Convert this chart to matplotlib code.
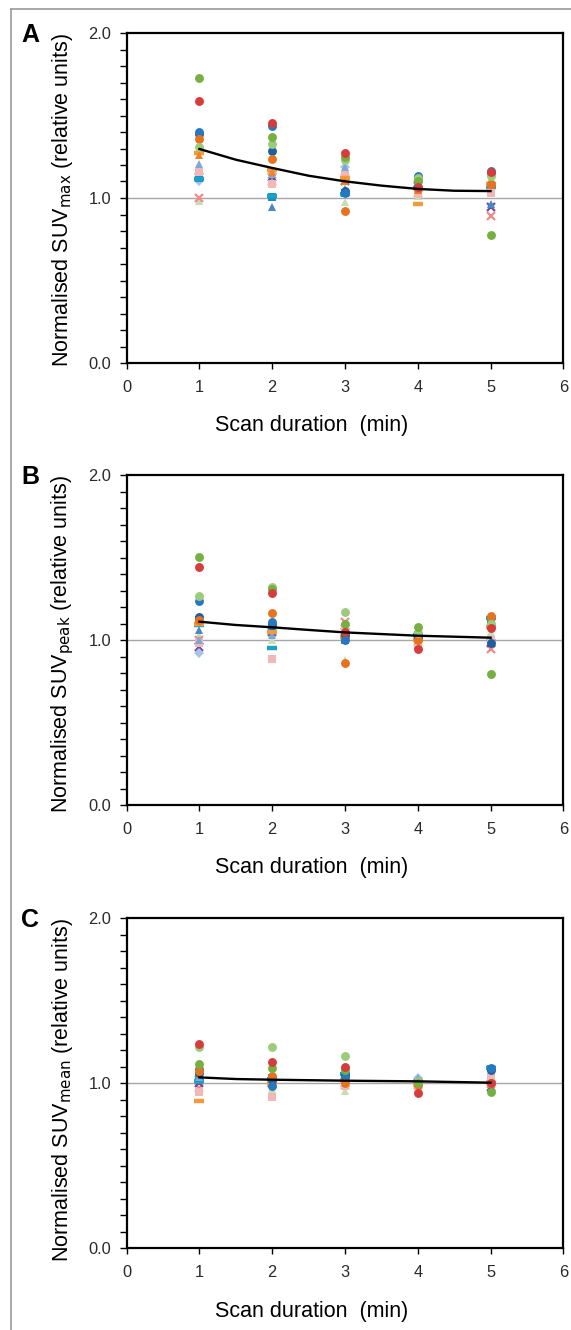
import matplotlib.pyplot as plt
from matplotlib.lines import Line2D
from matplotlib.ticker import MultipleLocator

plt.rcParams['font.family'] = ['Liberation Sans', 'DejaVu Sans']

W, H = 571, 1330

durations = [1, 2, 3, 4, 5]
fit_x = [1, 1.5, 2, 2.5, 3, 3.5, 4, 4.5, 5]

# normalised SUVmax, one list per lesion (scan duration 1..5 min)
max_blue = [1.398, 1.438, 1.028, 1.135, 1.166]
max_darkblue = [1.385, 1.283, 1.04, 1.12, 1.15]
max_orange = [1.358, 1.236, 0.919, 1.055, 1.085]
max_red = [1.586, 1.453, 1.271, 1.069, 1.156]
max_green = [1.727, 1.372, 1.25, 1.10, 0.778]
max_lgreen = [1.311, 1.327, 1.230, 1.121, 1.135]
max_odash = [1.27, 1.17, 1.12, 0.964, 1.085]
max_ltri = [1.206, 1.145, 1.19, 1.105, 1.10]
max_pinksq = [1.156, 1.085, 1.141, 1.024, 1.028]
max_cyan = [1.115, 1.014, 1.024, 1.06, 1.069]
max_purple = [1.13, 1.125, 1.105, 1.07, 0.943]
max_pinkx = [1.0, 1.1, 1.12, 1.03, 0.893]
max_lgtri = [0.984, 1.095, 0.974, 1.014, 1.12]
max_bluetri = [1.19, 0.943, 1.055, 1.09, 0.964]
max_bluesq = [1.12, 1.004, 1.03, 1.08, 1.05]
max_diamond = [1.10, 1.145, 1.19, 1.105, 1.07]
max_otri = [1.26, 1.16, 1.10, 1.05, 1.08]
max_fit = [1.297, 1.232, 1.182, 1.135, 1.101, 1.075, 1.055, 1.044, 1.042]

# normalised SUVpeak
peak_blue = [1.238, 1.111, 1.00, 1.03, 1.09]
peak_darkblue = [1.141, 1.09, 1.03, 1.02, 0.98]
peak_orange = [1.121, 1.166, 0.859, 1.0, 1.145]
peak_red = [1.444, 1.287, 1.05, 0.943, 1.071]
peak_green = [1.505, 1.31, 1.10, 1.081, 0.792]
peak_lgreen = [1.267, 1.323, 1.172, 1.04, 1.10]
peak_odash = [1.10, 1.05, 1.02, 1.0, 1.08]
peak_ltri = [1.0, 1.03, 1.03, 1.01, 1.0]
peak_pinksq = [0.98, 0.883, 1.081, 0.964, 1.0]
peak_cyan = [1.091, 0.95, 1.02, 1.03, 1.131]
peak_purple = [0.96, 1.05, 1.05, 1.02, 0.98]
peak_pinkx = [1.0, 1.06, 1.111, 0.99, 0.943]
peak_lgtri = [1.03, 1.0, 0.879, 1.01, 1.05]
peak_bluetri = [1.06, 1.07, 1.0, 1.02, 1.0]
peak_bluesq = [1.12, 1.08, 1.0, 1.03, 1.12]
peak_diamond = [0.923, 1.071, 1.05, 1.02, 0.99]
peak_otri = [1.121, 1.10, 1.04, 1.0, 1.14]
peak_fit = [1.111, 1.091, 1.077, 1.061, 1.046, 1.036, 1.026, 1.02, 1.014]

# normalised SUVmean
mean_blue = [1.085, 0.984, 1.034, 1.01, 1.09]
mean_darkblue = [1.06, 1.02, 1.05, 1.0, 1.08]
mean_orange = [1.07, 1.04, 1.0, 0.99, 1.0]
mean_red = [1.236, 1.125, 1.095, 0.939, 1.0]
mean_green = [1.115, 1.091, 1.08, 1.0, 0.943]
mean_lgreen = [1.216, 1.216, 1.162, 1.014, 1.0]
mean_odash = [0.889, 1.0, 1.02, 1.0, 1.0]
mean_ltri = [1.034, 1.02, 1.01, 1.03, 1.0]
mean_pinksq = [0.943, 0.917, 0.984, 0.978, 1.044]
mean_cyan = [1.01, 1.024, 1.055, 1.0, 1.091]
mean_purple = [1.0, 1.0, 1.0, 1.0, 0.974]
mean_pinkx = [0.97, 1.0, 0.99, 0.99, 0.994]
mean_lgtri = [0.95, 0.964, 0.954, 1.0, 0.994]
mean_bluetri = [1.02, 1.0, 1.0, 1.02, 1.0]
mean_bluesq = [1.03, 1.03, 1.04, 1.0, 1.085]
mean_diamond = [1.034, 1.02, 1.0, 1.03, 1.0]
mean_otri = [1.055, 1.044, 1.02, 1.0, 1.0]
mean_fit = [1.034, 1.024, 1.02, 1.017, 1.014, 1.012, 1.01, 1.006, 1.002]

# (colour, marker) per lesion, in drawing order
styles = {
    'lgtri': ('#C4DEB0', '^'),
    'pinkx': ('#F08A8A', 'x'),
    'purple': ('#6B4F95', 'x'),
    'diamond': ('#A8C2E8', 'D'),
    'bluesq': ('#1C8CC8', 's'),
    'bluetri': ('#4A86C8', '^'),
    'cyan': ('#1BA1C6', '_'),
    'pinksq': ('#F2B8B8', 's'),
    'ltri': ('#7DA7DB', '^'),
    'odash': ('#F39A3A', '_'),
    'otri': ('#F0822A', '^'),
    'darkblue': ('#1F5F9E', 'o'),
    'blue': ('#2878C0', 'o'),
    'orange': ('#E8731E', 'o'),
    'lgreen': ('#9CCB7B', 'o'),
    'green': ('#76B041', 'o'),
    'red': ('#D63C3C', 'o'),
}

panels = [
    ('A', r'Normalised SUV$_{\mathrm{max}}$ (relative units)', 'max', max_fit, 33),
    ('B', r'Normalised SUV$_{\mathrm{peak}}$ (relative units)', 'peak', peak_fit, 475),
    ('C', r'Normalised SUV$_{\mathrm{mean}}$ (relative units)', 'mean', mean_fit, 918),
]
values = dict((k, v) for k, v in globals().items()
              if k.split('_')[0] in ('max', 'peak', 'mean') and isinstance(v, list))

fig = plt.figure(figsize=(W / 100, H / 100), dpi=100)

# grey frame round the figure (left and top only)
fig.add_artist(Line2D([11 / W, 11 / W], [0, 1 - 9 / H], color='#9a9a9a', lw=1.2))
fig.add_artist(Line2D([11 / W, 1], [1 - 9 / H, 1 - 9 / H], color='#9a9a9a', lw=1.2))

ax_left, ax_right = 126.7, 563.3
ax_h = 330

for letter, ylabel, key, fit, top in panels:
    ax = fig.add_axes([ax_left / W, 1 - (top + ax_h) / H, (ax_right - ax_left) / W, ax_h / H])
    ax.axhline(1.0, color='#a6a6a6', lw=1.0, zorder=1)
    for name, (col, mk) in styles.items():
        y = values[key + '_' + name]
        if mk == '_':
            ax.plot(durations, y, ls='none', marker=mk, ms=7.5, mew=3.2, color=col, zorder=3)
        elif mk == 'x':
            ax.plot(durations, y, ls='none', marker=mk, ms=6, mew=1.6, color=col, zorder=3)
        else:
            ms = 5.2 if mk == 'D' else 6.4
            ax.plot(durations, y, ls='none', marker=mk, ms=ms, mew=0, color=col, zorder=3)
    ax.plot(fit_x, fit, color='black', lw=1.7, zorder=4)

    ax.set_xlim(0, 6)
    ax.set_ylim(0, 2)
    ax.xaxis.set_major_locator(MultipleLocator(1))
    ax.yaxis.set_major_locator(MultipleLocator(1))
    ax.yaxis.set_minor_locator(MultipleLocator(0.1))
    ax.yaxis.set_major_formatter(lambda v, p: f'{v:.1f}')
    ax.tick_params(axis='both', which='both', direction='out', color='black',
                   labelcolor='#2a2a2a', labelsize=11.8, width=1.0)
    ax.tick_params(axis='y', which='both', length=5, pad=6)
    ax.tick_params(axis='x', which='major', length=4, pad=8)
    for sp in ax.spines.values():
        sp.set_linewidth(1.6)
        sp.set_color('black')

    fig.text(63 / W, 1 - top / H, ylabel, rotation=90, ha='center', va='top', fontsize=15.5)
    fig.text(312 / W, 1 - (top + ax_h + 63) / H, 'Scan duration  (min)',
             ha='center', va='center', fontsize=15.5)
    fig.text(30 / W, 1 - (top + 2) / H, letter, ha='center', va='center',
             fontsize=18, fontweight='bold')

fig.savefig('out.png', dpi=100)
